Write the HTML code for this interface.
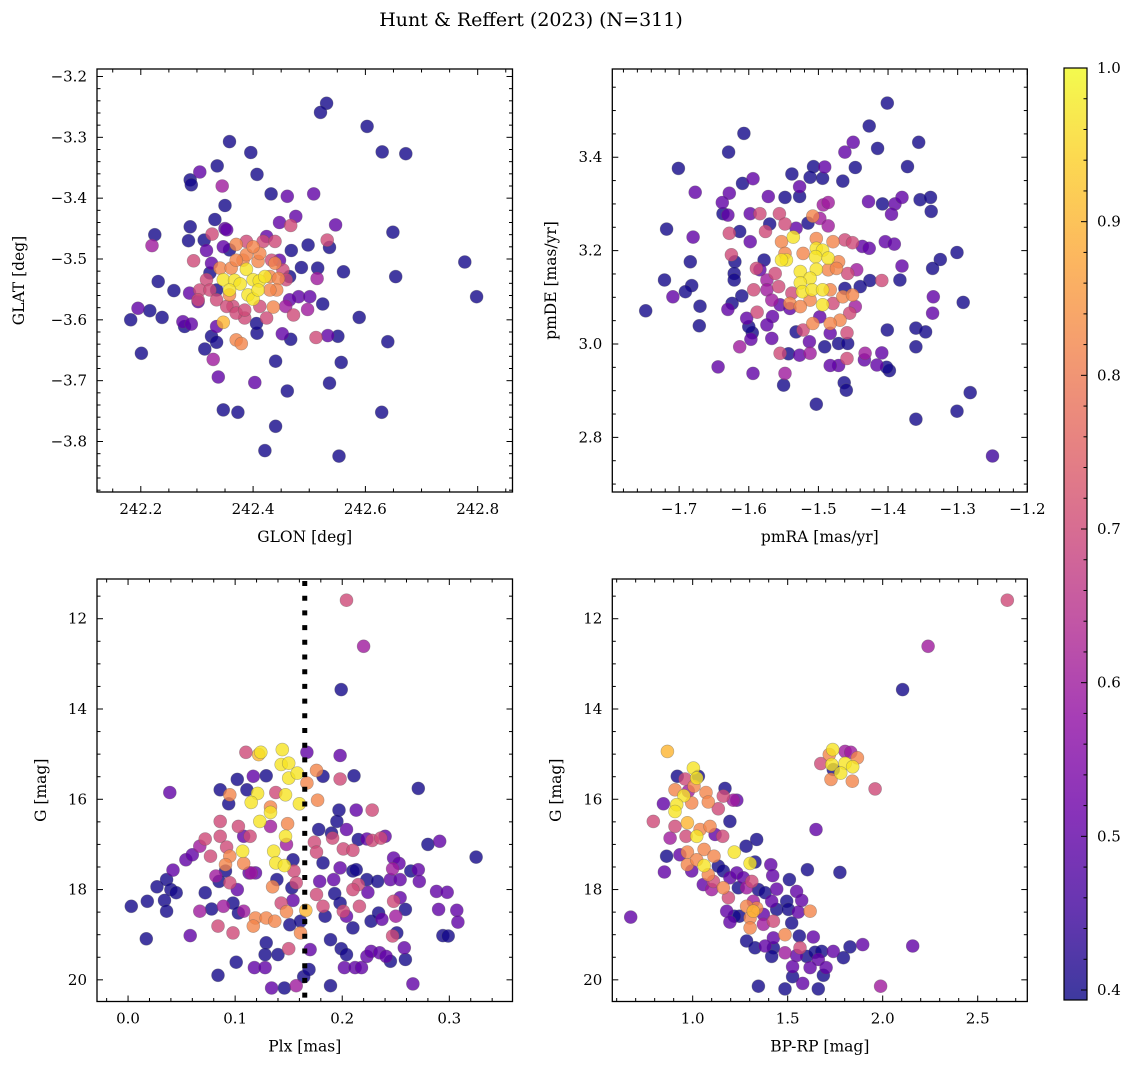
<!DOCTYPE html>
<html><head><meta charset="utf-8">
<style>
html,body{margin:0;padding:0;background:#fff;}
svg text{font-family:"DejaVu Serif","Liberation Serif",serif;fill:#000;}
</style></head>
<body>
<svg id="fig" width="1136" height="1068" viewBox="0 0 1136 1068" xmlns="http://www.w3.org/2000/svg">
<defs>
<linearGradient id="cbgrad" x1="0" y1="1" x2="0" y2="0">
<stop offset="0" stop-color="#0d0887"/><stop offset="0.1" stop-color="#41049d"/><stop offset="0.2" stop-color="#6a00a8"/><stop offset="0.3" stop-color="#8f0da4"/><stop offset="0.4" stop-color="#b12a90"/><stop offset="0.5" stop-color="#cc4778"/><stop offset="0.6" stop-color="#e16462"/><stop offset="0.7" stop-color="#f2844b"/><stop offset="0.8" stop-color="#fca636"/><stop offset="0.9" stop-color="#fcce25"/><stop offset="1" stop-color="#f0f921"/>
</linearGradient>
</defs>
<text x="531" y="26" font-size="19" text-anchor="middle">Hunt &amp; Reffert (2023) (N=311)</text>
</svg>
<script>
const D=0.40,P=0.5,M=0.6,K=0.7,O=0.82,Y9=0.9,Y=0.97;
// Panel 1: GLON / GLAT
const p1x=[242.531,242.520,242.603,242.630,242.672,242.358,242.396,242.336,242.305,242.288,242.290,242.345,242.407,242.432,242.461,242.508,242.350,242.332,242.288,242.350,242.476,242.447,242.467,242.547,242.649,242.225,242.220,242.285,242.313,242.327,242.317,242.370,242.468,242.498,242.532,242.536,242.294,242.326,242.486,242.515,242.561,242.514,242.654,242.777,242.798,242.231,242.259,242.195,242.216,242.182,242.238,242.275,242.290,242.278,242.287,242.302,242.201,242.589,242.640,242.335,242.326,242.314,242.335,242.329,242.370,242.379,242.347,242.407,242.452,242.467,242.512,242.533,242.551,242.440,242.557,242.338,242.403,242.461,242.536,242.347,242.373,242.629,242.440,242.421,242.553,242.458,242.472,242.497,242.524,242.481,242.501,242.436,242.424,242.406,242.385,242.364,
242.335,242.323,242.347,242.353,242.424,242.447,242.465,242.465,242.358,
242.388,242.418,242.439,242.433,242.453,242.459,242.317,242.305,242.302,242.323,242.335,242.353,242.370,242.385,242.412,
242.341,242.361,242.382,242.409,242.412,242.388,242.430,242.445,242.442,242.430,242.358,242.370,242.439,242.400,
242.347,242.367,242.377,242.388,242.400,242.411,242.391,242.400,242.421,242.358,242.409];
const p1y=[-3.244,-3.259,-3.282,-3.324,-3.327,-3.307,-3.325,-3.347,-3.357,-3.370,-3.378,-3.380,-3.361,-3.393,-3.397,-3.393,-3.412,-3.435,-3.447,-3.450,-3.430,-3.440,-3.445,-3.444,-3.456,-3.460,-3.478,-3.470,-3.469,-3.459,-3.486,-3.476,-3.486,-3.477,-3.469,-3.481,-3.503,-3.507,-3.514,-3.515,-3.521,-3.532,-3.529,-3.505,-3.562,-3.537,-3.552,-3.581,-3.585,-3.600,-3.596,-3.603,-3.607,-3.611,-3.556,-3.570,-3.655,-3.596,-3.636,-3.611,-3.627,-3.648,-3.637,-3.665,-3.633,-3.639,-3.604,-3.622,-3.623,-3.632,-3.629,-3.626,-3.627,-3.668,-3.670,-3.694,-3.703,-3.717,-3.704,-3.748,-3.752,-3.752,-3.775,-3.815,-3.824,-3.578,-3.592,-3.583,-3.574,-3.562,-3.562,-3.579,-3.597,-3.606,-3.597,-3.578,
-3.551,-3.523,-3.480,-3.452,-3.463,-3.502,-3.529,-3.567,-3.485,
-3.471,-3.471,-3.471,-3.502,-3.518,-3.534,-3.534,-3.551,-3.567,-3.551,-3.567,-3.578,-3.589,-3.584,-3.578,
-3.515,-3.515,-3.502,-3.504,-3.491,-3.493,-3.529,-3.532,-3.551,-3.551,-3.559,-3.502,-3.507,-3.480,
-3.534,-3.535,-3.541,-3.517,-3.534,-3.536,-3.559,-3.566,-3.529,-3.551,-3.551];
const p1c=[D,D,D,D,D,D,D,D,P,D,D,M,D,D,P,P,D,D,D,P,P,P,K,P,D,D,M,D,D,K,P,O,D,D,K,D,K,P,D,D,D,M,D,D,D,D,D,P,D,D,D,P,P,D,P,P,D,D,D,P,D,D,D,M,O,O,Y9,D,P,D,K,P,D,D,D,P,P,D,D,D,D,D,D,D,D,M,K,M,D,P,P,O,K,D,K,K,
D,D,P,P,P,P,D,P,D,
K,K,K,K,K,K,K,K,K,K,K,K,K,K,K,
O,O,O,O,O,O,O,O,O,O,O,O,O,O,
Y,Y,Y,Y,Y,Y,Y,Y,Y,Y,Y];
// Panel 2: pmRA / pmDE
const p2x=[-1.401,-1.427,-1.607,-1.450,-1.356,-1.462,-1.415,-1.629,-1.701,-1.372,-1.538,-1.507,-1.491,-1.512,-1.494,-1.447,-1.465,-1.609,-1.594,-1.677,-1.628,-1.638,-1.630,-1.637,-1.572,-1.548,-1.527,-1.527,-1.493,-1.486,-1.428,-1.408,-1.390,-1.380,-1.354,-1.339,-1.338,-1.395,-1.598,-1.584,-1.556,-1.570,-1.548,-1.515,-1.508,-1.498,-1.486,-1.718,-1.680,-1.628,-1.613,-1.598,-1.576,-1.553,-1.536,-1.532,-1.503,-1.503,-1.494,-1.479,-1.462,-1.451,-1.437,-1.427,-1.404,-1.391,-1.301,-1.325,-1.336,-1.380,-1.383,-1.409,-1.426,-1.440,-1.625,-1.620,-1.621,-1.621,-1.684,-1.721,-1.682,-1.691,-1.709,-1.670,-1.630,-1.624,-1.610,-1.671,-1.748,-1.578,-1.584,-1.589,-1.593,-1.574,-1.574,-1.562,-1.557,-1.567,-1.546,-1.553,-1.548,-1.522,-1.504,-1.486,-1.471,-1.486,-1.526,-1.503,-1.512,-1.526,-1.523,-1.509,-1.494,-1.483,-1.494,-1.512,-1.538,-1.541,-1.526,-1.479,-1.465,-1.458,-1.474,-1.462,-1.445,-1.451,-1.447,-1.455,-1.469,-1.483,-1.508,-1.522,-1.532,-1.513,-1.527,-1.512,-1.498,-1.483,-1.491,-1.471,-1.458,-1.459,-1.459,-1.433,-1.434,-1.416,-1.409,-1.401,-1.398,-1.402,-1.360,-1.346,-1.360,-1.335,-1.336,-1.292,-1.555,-1.541,-1.566,-1.574,-1.567,-1.597,-1.595,-1.613,-1.603,-1.600,-1.588,-1.555,-1.543,-1.548,-1.550,-1.594,-1.644,-1.471,-1.483,-1.463,-1.460,-1.503,-1.282,-1.301,-1.360,-1.250];
const p2y=[3.516,3.467,3.451,3.432,3.432,3.411,3.419,3.411,3.376,3.380,3.364,3.380,3.379,3.357,3.355,3.378,3.349,3.344,3.354,3.325,3.323,3.303,3.276,3.279,3.316,3.314,3.337,3.316,3.298,3.303,3.305,3.300,3.300,3.314,3.309,3.314,3.284,3.278,3.279,3.279,3.279,3.257,3.257,3.259,3.274,3.269,3.253,3.246,3.229,3.237,3.241,3.219,3.241,3.219,3.229,3.248,3.226,3.205,3.201,3.219,3.223,3.217,3.209,3.205,3.219,3.214,3.196,3.181,3.162,3.167,3.137,3.136,3.136,3.123,3.191,3.176,3.151,3.137,3.176,3.137,3.125,3.112,3.101,3.081,3.074,3.087,3.103,3.039,3.071,3.180,3.159,3.162,3.116,3.137,3.116,3.151,3.123,3.094,3.180,3.180,3.194,3.194,3.187,3.184,3.176,3.159,3.155,3.160,3.141,3.131,3.112,3.116,3.116,3.116,3.084,3.094,3.109,3.087,3.080,3.087,3.101,3.151,3.162,3.119,3.159,3.105,3.080,3.066,3.051,3.044,3.044,3.030,3.026,3.005,2.976,2.980,3.058,3.023,2.994,3.001,3.001,3.024,2.969,2.980,2.966,2.955,2.981,3.030,2.943,2.950,3.034,3.026,2.994,3.101,3.066,3.089,3.084,3.076,3.059,3.041,3.012,3.010,3.024,2.994,3.055,3.037,3.068,2.980,2.979,2.937,2.912,2.937,2.951,2.954,2.954,2.917,2.901,2.871,2.896,2.856,2.839,2.760];
const p2c=[D,D,D,P,D,P,D,D,D,D,D,D,P,D,D,D,D,D,P,P,P,P,P,D,P,D,P,D,M,M,P,D,P,P,D,D,D,P,P,K,K,D,K,D,O,M,M,D,P,K,D,P,K,O,Y,P,O,Y,Y,O,K,K,P,P,P,P,D,D,D,P,D,K,D,D,K,D,D,D,D,D,D,D,P,D,P,D,D,D,D,D,P,K,K,M,M,K,K,M,Y,Y,O,O,Y,Y,O,O,Y,Y,Y,Y,Y,Y,Y,O,Y,O,K,O,O,K,O,K,O,D,M,O,M,K,O,O,O,K,D,P,P,M,P,P,D,D,D,K,K,M,P,P,P,D,D,D,D,D,D,P,P,D,P,P,P,P,P,P,D,M,P,D,K,K,D,M,D,P,P,P,P,D,D,D,D,D,D];
// Panel 3: Plx / G
const p3x=[0.204,0.220,0.199,0.039,0.271,0.325,0.003,0.017,0.084,0.134,0.146,0.189,0.266,0.157,0.164,0.169,
0.027,0.036,0.040,0.045,0.034,0.036,0.018,0.042,0.054,0.060,0.058,0.072,0.078,0.086,0.094,0.098,0.101,0.103,0.111,0.117,0.129,0.108,0.118,0.128,0.129,0.140,0.128,0.139,0.153,0.154,0.154,0.151,0.161,0.170,0.182,0.167,0.198,0.211,0.197,0.195,0.204,0.213,0.215,0.178,0.190,0.182,0.198,0.210,0.213,0.192,0.179,0.193,0.198,0.204,0.210,0.184,0.189,0.199,0.204,0.202,0.212,0.218,0.223,0.227,0.235,0.241,0.245,0.258,0.259,0.251,0.227,0.237,0.234,0.259,0.254,0.223,0.233,0.224,0.245,0.254,0.248,0.253,0.264,0.271,0.272,0.280,0.291,0.288,0.298,0.290,0.307,0.308,0.294,0.299,0.223,0.240,0.113,0.119,0.102,0.091,0.085,
0.102,0.095,0.138,0.167,0.177,0.176,0.198,0.103,0.149,0.133,0.148,0.095,0.091,0.108,0.135,0.148,0.119,0.117,0.129,0.137,0.084,0.098,0.110,0.086,0.086,0.092,0.072,0.067,0.077,0.114,0.174,0.176,0.191,0.201,0.210,0.228,0.228,0.236,0.247,0.215,0.210,0.216,0.201,0.176,0.182,0.155,0.157,0.143,0.150,0.247,0.248,0.250,0.089,0.108,0.082,0.095,0.115,0.133,0.067,
0.124,0.122,0.144,0.143,0.150,0.150,0.158,0.147,0.160,0.121,0.115,0.133,0.123,0.147,0.136,0.138,0.146,0.107,0.166,0.161];
const p3y=[11.59,12.61,13.57,15.85,15.76,17.28,18.37,19.09,19.90,20.18,20.18,20.13,20.09,20.13,19.93,19.77,
17.94,17.78,18.00,18.07,18.24,18.48,18.26,17.57,17.34,17.23,19.02,18.07,18.43,15.79,16.10,18.30,19.61,18.52,15.79,15.49,15.48,16.82,19.73,19.73,19.18,19.44,19.44,17.78,17.96,18.24,17.34,18.78,18.70,19.33,15.49,14.96,15.03,15.48,16.24,16.49,16.67,16.24,16.89,16.67,16.75,17.41,17.52,17.59,17.56,17.78,17.82,18.09,18.30,18.59,18.85,18.59,19.11,19.31,19.44,19.73,19.73,19.73,19.48,19.37,19.40,19.48,19.59,19.29,19.55,18.96,18.70,18.66,18.52,18.44,18.18,17.78,17.82,18.06,17.78,17.78,17.30,17.42,17.59,17.56,17.82,17.00,16.93,18.04,18.06,18.44,18.46,18.72,19.02,19.03,16.88,16.82,17.63,17.63,18.00,17.59,17.82,
15.56,15.90,15.85,15.64,16.02,15.36,15.55,16.60,16.54,16.17,17.00,17.26,17.45,17.42,17.94,18.49,18.63,18.81,18.63,18.70,18.81,18.96,14.96,16.49,16.82,17.06,16.88,17.04,17.26,16.82,16.95,17.17,16.86,17.10,17.13,16.24,16.91,16.86,17.54,17.89,18.00,18.37,18.48,18.11,18.37,17.59,17.85,18.30,19.31,19.03,18.26,18.59,18.37,18.48,17.70,17.85,17.63,16.60,18.48,
14.96,15.01,14.90,15.23,15.20,15.53,15.42,15.90,16.10,15.87,16.07,16.29,16.49,16.82,17.15,17.41,17.47,17.15,18.46,18.96];
const p3c=[K,M,D,P,D,D,D,D,D,P,D,D,P,M,D,D,
D,D,D,D,D,D,D,P,P,P,P,D,D,D,D,D,D,D,D,P,D,P,P,P,D,D,D,D,D,P,D,D,D,P,D,P,P,D,D,D,P,P,D,D,D,D,P,D,D,P,P,D,D,P,D,D,D,D,D,P,P,P,P,P,P,P,D,P,D,D,D,P,D,D,P,D,D,P,P,P,P,P,D,P,P,D,P,P,P,P,P,P,D,D,P,P,P,P,P,D,D,D,
O,K,O,O,O,K,K,O,O,M,O,O,O,O,O,O,O,O,O,K,K,K,K,K,K,K,M,K,K,K,K,K,K,K,K,K,K,M,K,K,K,K,K,K,K,K,K,K,K,K,M,M,M,M,K,M,M,M,
Y,Y9,Y,Y,Y,Y,Y,Y,Y,Y,Y,Y,Y,Y,Y,Y,Y,Y,Y9,O];
// Panel 4: BP-RP / G
const p4x=[2.656,2.239,2.105,0.867,0.674,0.793,1.737,1.719,1.802,1.832,1.867,1.674,1.732,1.802,1.842,1.779,1.728,1.840,1.960,1.740,1.649,1.775,1.604,2.158,1.989,1.895,1.828,1.618,
1.004,1.021,0.919,0.960,1.030,0.907,0.954,0.916,0.907,0.846,0.995,1.007,1.070,1.082,0.977,1.135,1.170,1.161,1.214,1.232,1.196,0.972,0.907,0.881,0.965,1.021,1.039,1.091,1.118,1.158,1.281,1.337,1.219,1.302,1.328,0.972,1.060,1.112,0.863,0.851,0.933,0.972,1.060,1.021,0.995,1.056,1.082,1.135,1.161,1.109,1.161,1.100,1.196,1.232,1.240,1.188,1.284,1.311,1.267,1.411,1.421,1.346,1.381,1.442,1.416,1.319,1.337,1.284,1.319,1.302,1.246,1.179,1.196,1.219,1.372,1.442,1.495,1.509,1.547,1.574,1.556,1.504,1.521,1.425,1.372,1.302,1.486,1.425,1.284,1.328,1.381,1.425,1.486,1.416,1.561,1.635,1.565,1.547,1.600,1.644,1.679,1.661,1.740,1.793,1.526,1.618,1.702,1.688,1.526,1.579,1.661,1.486,1.346];
const p4y=[11.59,12.61,13.57,14.94,18.61,16.49,14.90,15.01,14.94,14.96,15.08,15.21,15.23,15.20,15.28,15.42,15.56,15.60,15.77,15.34,16.67,17.62,17.56,19.25,20.14,19.22,19.27,18.48,
15.31,15.53,15.49,15.55,15.49,15.79,15.92,16.12,16.27,16.10,16.08,15.71,15.85,16.06,15.82,16.21,15.76,15.93,16.02,16.02,16.49,16.52,16.60,16.86,16.82,16.82,16.67,16.60,16.78,16.82,17.04,16.89,17.17,17.42,17.39,17.17,17.11,17.26,17.26,17.61,17.23,17.45,17.47,17.34,17.59,17.89,17.67,17.48,17.59,17.82,17.96,18.00,17.74,17.63,17.96,18.18,17.96,17.82,17.74,17.45,17.69,18.00,18.07,17.99,18.26,18.26,18.41,18.37,18.48,18.63,18.59,18.48,18.72,18.59,18.55,18.44,18.26,17.78,18.04,18.24,18.50,18.44,18.74,18.70,18.77,18.85,19.00,19.07,19.14,19.29,19.25,19.29,19.40,19.48,19.03,19.05,19.29,19.46,19.48,19.39,19.37,19.55,19.37,19.51,19.71,19.73,19.73,19.90,19.93,20.08,20.20,20.20,20.14];
const p4c=[K,M,D,Y9,P,K,Y,O,M,M,O,K,Y,Y,Y,Y,O,O,K,D,P,D,D,P,M,P,D,O,
Y,Y,D,K,D,O,Y,Y,Y,P,O,O,O,O,M,K,D,K,M,P,D,Y9,K,M,K,Y,O,O,P,K,D,D,Y,Y,D,O,O,O,D,P,P,O,Y,O,P,P,O,D,D,K,O,M,P,P,D,K,M,K,P,P,P,D,D,P,P,M,O,O,Y9,O,D,P,P,D,P,D,D,D,P,P,P,D,D,K,M,O,O,P,D,D,P,D,M,D,D,P,K,P,D,D,D,P,P,D,P,P,P,D,D,P,D,D,D];
// Colorbar ticks
const cbTicks=[0.4,0.5,0.6,0.7,0.8,0.9,1.0];
const cbMin=0.3935, cbMax=1.0;

const NS='http://www.w3.org/2000/svg';
const svg=document.getElementById('fig');
function el(tag,attrs,parent){const e=document.createElementNS(NS,tag);for(const k in attrs)e.setAttribute(k,attrs[k]);(parent||svg).appendChild(e);return e;}
const stops=[[13,8,135],[65,4,157],[106,0,168],[143,13,164],[177,42,144],[204,71,120],[225,100,98],[242,132,75],[252,166,54],[252,206,37],[240,249,33]];
function plasma(v){if(typeof v!=='number'||isNaN(v))v=0.45;let t=(v-cbMin)/(cbMax-cbMin);t=Math.max(0,Math.min(1,t))*10;const i=Math.min(9,Math.floor(t)),f=t-i;const a=stops[i],b=stops[i+1];return 'rgb('+[0,1,2].map(j=>Math.round(a[j]+(b[j]-a[j])*f)).join(',')+')';}
function fmt(v,d){const s=Math.abs(v).toFixed(d);return (v<-1e-9?'\u2212':'')+s;}

function panel(cfg){
  const g=el('g',{});
  
  
  const L=cfg.l,R=cfg.r,T=cfg.t,B=cfg.b;
  const n=Math.min(cfg.xs.length,cfg.ys.length);
  const cval=i=>(typeof cfg.cs[i]==='number'?cfg.cs[i]:0.45);
  const sx=v=>L+(v-cfg.x0)/(cfg.x1-cfg.x0)*(R-L);
  const sy=v=>cfg.yinv? T+(v-cfg.y0)/(cfg.y1-cfg.y0)*(B-T) : B-(v-cfg.y0)/(cfg.y1-cfg.y0)*(B-T);
  const idx=[];for(let i=0;i<n;i++)idx.push(i);
  idx.sort((a,b)=>cval(a)-cval(b));
  const pg=el('g',{},g);
  
  
  for(const i of idx){
    const c=el('circle',{cx:sx(cfg.xs[i]).toFixed(1),cy:sy(cfg.ys[i]).toFixed(1),r:6.5,fill:plasma(cval(i)),'fill-opacity':0.8,stroke:'rgba(90,90,90,0.45)','stroke-width':0.6},pg);
    
    
  }
  if(cfg.vline!==undefined){
    const ln=el('line',{x1:sx(cfg.vline),x2:sx(cfg.vline),y1:T+2,y2:B,stroke:'#000','stroke-width':5,'stroke-dasharray':'5 9.7'},g);
    
    
  }
  const tg=el('g',{stroke:'#000','stroke-width':1},g);
  
  
  const lo=Math.min(cfg.x0,cfg.x1),hi=Math.max(cfg.x0,cfg.x1);
  for(let k=Math.ceil(lo/cfg.xmin-1e-6);k*cfg.xmin<=hi+1e-9;k++){
    const v=k*cfg.xmin,x=sx(v);const maj=Math.abs(v/cfg.xmaj-Math.round(v/cfg.xmaj))<1e-6;const len=maj?6:3.5;
    el('line',{x1:x,x2:x,y1:B,y2:B-len},tg);el('line',{x1:x,x2:x,y1:T,y2:T+len},tg);
  }
  const ylo=Math.min(cfg.y0,cfg.y1),yhi=Math.max(cfg.y0,cfg.y1);
  for(let k=Math.ceil(ylo/cfg.ymin-1e-6);k*cfg.ymin<=yhi+1e-9;k++){
    const v=k*cfg.ymin,y=sy(v);const maj=Math.abs(v/cfg.ymaj-Math.round(v/cfg.ymaj))<1e-6;const len=maj?6:3.5;
    el('line',{x1:L,x2:L+len,y1:y,y2:y},tg);el('line',{x1:R,x2:R-len,y1:y,y2:y},tg);
  }
  for(const v of cfg.xt){const t=el('text',{x:sx(v),y:B+22,'font-size':15,'text-anchor':'middle'},g);t.textContent=fmt(v,cfg.xd);}
  for(const v of cfg.yt){const t=el('text',{x:L-10,y:sy(v)+5,'font-size':15,'text-anchor':'end'},g);t.textContent=fmt(v,cfg.yd);}
  const fr=el('rect',{x:L,y:T,width:R-L,height:B-T,fill:'none',stroke:'#000','stroke-width':1.3},g);
  
  const xl=el('text',{x:(L+R)/2,y:B+50,'font-size':15.5,'text-anchor':'middle'},g);xl.textContent=cfg.xlab;
  
  const yx=cfg.ylx,yc=(T+B)/2;
  const yl=el('text',{x:yx,y:yc,'font-size':15.5,'text-anchor':'middle',transform:'rotate(-90 '+yx+' '+yc+')'},g);yl.textContent=cfg.ylab;
  
}
panel({name:'panel-glon-glat',l:97,r:512.5,t:69,b:492,x0:242.122,x1:242.862,y0:-3.883,y1:-3.1877,xs:p1x,ys:p1y,cs:p1c,xmaj:0.2,xmin:0.05,ymaj:0.1,ymin:0.02,xt:[242.2,242.4,242.6,242.8],yt:[-3.8,-3.7,-3.6,-3.5,-3.4,-3.3,-3.2],xd:1,yd:1,xlab:'GLON [deg]',ylab:'GLAT [deg]',ylx:24});
panel({name:'panel-pmra-pmde',l:612.3,r:1027.3,t:69,b:492,x0:-1.796,x1:-1.2,y0:2.683,y1:3.589,xs:p2x,ys:p2y,cs:p2c,xmaj:0.1,xmin:0.02,ymaj:0.2,ymin:0.05,xt:[-1.7,-1.6,-1.5,-1.4,-1.3,-1.2],yt:[2.8,3.0,3.2,3.4],xd:1,yd:1,xlab:'pmRA [mas/yr]',ylab:'pmDE [mas/yr]',ylx:556});
panel({name:'panel-plx-g',l:97,r:512.5,t:579,b:1001.5,x0:-0.029,x1:0.359,y0:11.12,y1:20.48,yinv:true,xs:p3x,ys:p3y,cs:p3c,xmaj:0.1,xmin:0.02,ymaj:2,ymin:0.5,xt:[0,0.1,0.2,0.3],yt:[12,14,16,18,20],xd:1,yd:0,xlab:'Plx [mas]',ylab:'G [mag]',ylx:46,vline:0.165});
panel({name:'panel-bprp-g',l:612.3,r:1027.3,t:579,b:1001.5,x0:0.577,x1:2.761,y0:11.12,y1:20.48,yinv:true,xs:p4x,ys:p4y,cs:p4c,xmaj:0.5,xmin:0.1,ymaj:2,ymin:0.5,xt:[1.0,1.5,2.0,2.5],yt:[12,14,16,18,20],xd:1,yd:0,xlab:'BP-RP [mag]',ylab:'G [mag]',ylx:561});
(function(){
  const g=el('g',{});
  
  
  const L=1064,R=1087,T=68,B=1000;
  const sy=v=>B-(v-cbMin)/(cbMax-cbMin)*(B-T);
  el('rect',{x:L,y:T,width:R-L,height:B-T,fill:'url(#cbgrad)','fill-opacity':0.8},g);
  el('rect',{x:L,y:T,width:R-L,height:B-T,fill:'none',stroke:'#000','stroke-width':1.2},g);
  for(let k=20;k<=50;k++){const v=k*0.02;const y=sy(v);const maj=(k%5===0);el('line',{x1:R,x2:R-(maj?6:3.5),y1:y,y2:y,stroke:'#000','stroke-width':1},g);}
  for(const v of cbTicks){const t=el('text',{x:R+10,y:sy(v)+5,'font-size':15},g);t.textContent=v.toFixed(1);}
})();
</script>
</body></html>
